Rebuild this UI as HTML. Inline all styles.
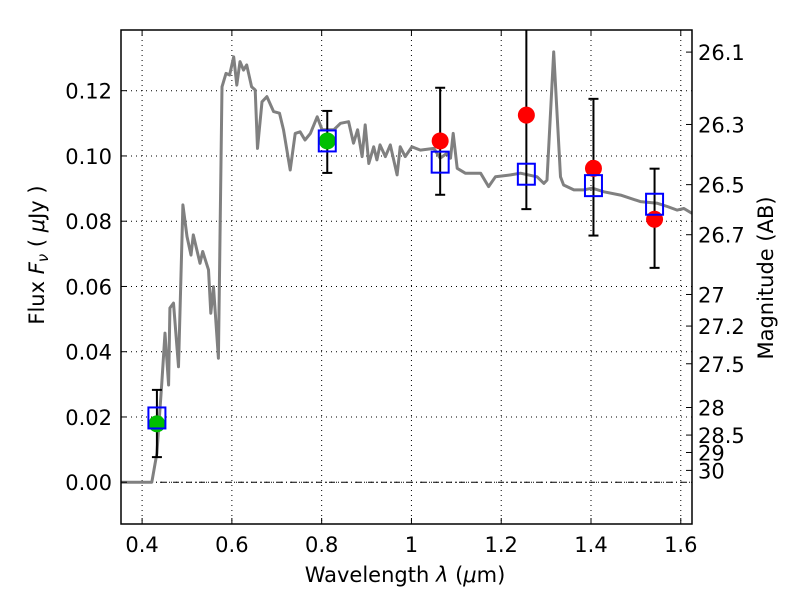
<!DOCTYPE html>
<html><head><meta charset="utf-8"><style>
html,body{margin:0;padding:0;background:#fff}
svg{display:block;font-family:"DejaVu Sans","Liberation Sans",sans-serif}
</style></head><body>
<svg id="chart" width="800" height="600" viewBox="0 0 800 600">
<defs><clipPath id="pc"><rect x="121" y="30" width="571" height="494"/></clipPath></defs>
<rect x="0" y="0" width="800" height="600" fill="#fff"/>
<g id="grid"></g>
<g id="spec" clip-path="url(#pc)"></g>
<g id="pts" clip-path="url(#pc)"></g>
<g id="axes"></g>
<text x="405" y="582" font-size="21" text-anchor="middle">Wavelength  <tspan font-style="italic">λ</tspan> (<tspan font-style="italic">μ</tspan>m)</text>
<text transform="translate(44,255) rotate(-90)" font-size="21" text-anchor="middle">Flux  <tspan font-style="italic">F<tspan font-size="15" dy="4">ν</tspan></tspan><tspan dy="-4">  (  </tspan><tspan font-style="italic">μ</tspan>Jy )</text>
<text transform="translate(773,278) rotate(-90)" font-size="21" text-anchor="middle">Magnitude (AB)</text>
</svg>
<script>
const specW=[0.353,0.4216,0.433,0.444,0.451,0.459,0.462,0.470,0.481,0.491,0.500,0.509,0.514,0.529,0.535,0.548,0.553,0.559,0.570,0.578,0.587,0.595,0.604,0.611,0.618,0.626,0.633,0.644,0.652,0.657,0.667,0.678,0.693,0.706,0.715,0.730,0.741,0.752,0.763,0.775,0.790,0.801,0.827,0.842,0.860,0.871,0.880,0.890,0.897,0.905,0.916,0.923,0.930,0.942,0.953,0.968,0.975,0.986,1.001,1.020,1.050,1.064,1.079,1.087,1.093,1.102,1.120,1.154,1.172,1.187,1.221,1.243,1.280,1.295,1.302,1.317,1.332,1.339,1.362,1.384,1.403,1.429,1.466,1.510,1.548,1.570,1.592,1.607,1.625];
const specF=[0,0,0.0089,0.0304,0.0457,0.0298,0.0534,0.0549,0.0354,0.085,0.0753,0.0696,0.0758,0.0671,0.0707,0.0651,0.0518,0.0599,0.038,0.1212,0.1253,0.1248,0.1304,0.1217,0.1289,0.1263,0.1279,0.1212,0.1202,0.1023,0.1166,0.1182,0.1136,0.1131,0.108,0.0957,0.1069,0.1074,0.1049,0.1069,0.112,0.108,0.108,0.11,0.1105,0.1039,0.108,0.0998,0.1095,0.0977,0.1028,0.0988,0.1034,0.0998,0.1034,0.0942,0.1028,0.0998,0.1028,0.1018,0.1023,0.0993,0.1008,0.0993,0.1069,0.0962,0.0947,0.0947,0.0906,0.0936,0.0942,0.0947,0.0936,0.0916,0.0926,0.1319,0.0936,0.0911,0.0896,0.0896,0.0901,0.089,0.088,0.086,0.0855,0.0845,0.0834,0.0839,0.0824];
const bandW=[0.433,0.8125,1.064,1.256,1.4055,1.5416];
const obsF=[0.0179,0.1046,0.1046,0.1125,0.0962,0.0806];
const errHi=[0.0283,0.1138,0.1209,0.145,0.1175,0.0961];
const errLo=[0.0077,0.0948,0.0881,0.0837,0.0756,0.0657];
const modelF=[0.0197,0.1046,0.0981,0.0944,0.0909,0.0852];
const detected=[true,true,false,false,false,false];
const xTicks=[0.4,0.6,0.8,1.0,1.2,1.4,1.6];
const xTickLabels=["0.4","0.6","0.8","1","1.2","1.4","1.6"];
const yTicks=[0,0.02,0.04,0.06,0.08,0.10,0.12];
const yTickLabels=["0.00","0.02","0.04","0.06","0.08","0.10","0.12"];
const magTicks=[26.1,26.3,26.5,26.7,27,27.2,27.5,28,28.5,29,30];
const magTickLabels=["26.1","26.3","26.5","26.7","27","27.2","27.5","28","28.5","29","30"];

const L=121,R=692,T=30,B=524,x0=0.353,x1=1.625,y0=-0.0128,y1=0.1386;
const X=v=>L+(v-x0)/(x1-x0)*(R-L);
const Y=v=>B-(v-y0)/(y1-y0)*(B-T);
const NS="http://www.w3.org/2000/svg";
function mk(tag,attrs,parent){const e=document.createElementNS(NS,tag);for(const k in attrs)e.setAttribute(k,attrs[k]);parent.appendChild(e);return e;}
const grid=document.getElementById('grid'),spec=document.getElementById('spec'),pts=document.getElementById('pts'),axes=document.getElementById('axes');

xTicks.forEach((t,i)=>{
 const g=mk('line',{x1:X(t),x2:X(t),y1:T,y2:B,stroke:'#000','stroke-width':1,'stroke-dasharray':'1,4'},grid);
 
 
 mk('line',{x1:X(t),x2:X(t),y1:B,y2:B-6,stroke:'#000'},axes);
 mk('line',{x1:X(t),x2:X(t),y1:T,y2:T+6,stroke:'#000'},axes);
 const tx=mk('text',{x:X(t),y:B+28,'font-size':21,'text-anchor':'middle'},axes);
 tx.textContent=xTickLabels[i];
 
 
});
yTicks.forEach((t,i)=>{
 const g=mk('line',{x1:L,x2:R,y1:Y(t),y2:Y(t),stroke:'#000','stroke-width':1,'stroke-dasharray':'1,4'},grid);
 
 
 mk('line',{x1:L,x2:L+6,y1:Y(t),y2:Y(t),stroke:'#000'},axes);
 const tx=mk('text',{x:L-9,y:Y(t)+8,'font-size':21,'text-anchor':'end'},axes);
 tx.textContent=yTickLabels[i];
 
 
});
const zl=mk('line',{x1:L,x2:R,y1:Y(0),y2:Y(0),stroke:'#000','stroke-width':1,'stroke-dasharray':'6,3,1,3'},grid);


magTicks.forEach((m,i)=>{
 const f=Math.pow(10,(23.9-m)/2.5);
 const y=Y(f);
 mk('line',{x1:R,x2:R-6,y1:y,y2:y,stroke:'#000'},axes);
 const tx=mk('text',{x:R+6,y:y+8,'font-size':21},axes);
 tx.textContent=magTickLabels[i];
 
 
});
let d='';specW.forEach((w,i)=>{d+=(i?'L':'M')+X(w).toFixed(1)+','+Y(specF[i]).toFixed(1);});
const sp=mk('path',{d:d,fill:'none',stroke:'#808080','stroke-width':3,'stroke-linejoin':'round'},spec);



bandW.forEach((w,i)=>{
 const x=X(w);
 const eb=mk('g',{},pts);
 
 
 mk('line',{x1:x,x2:x,y1:Y(errHi[i]),y2:Y(errLo[i]),stroke:'#000','stroke-width':2},eb);
 mk('line',{x1:x-5,x2:x+5,y1:Y(errHi[i]),y2:Y(errHi[i]),stroke:'#000','stroke-width':2},eb);
 mk('line',{x1:x-5,x2:x+5,y1:Y(errLo[i]),y2:Y(errLo[i]),stroke:'#000','stroke-width':2},eb);
 const c=mk('circle',{cx:x,cy:Y(obsF[i]),r:8.5,fill:detected[i]?'#00bf00':'#ff0000'},pts);
 
 
 const s=mk('rect',{x:x-8.5,y:Y(modelF[i])-10.5,width:17,height:21,fill:'none',stroke:'#0000ff','stroke-width':2},pts);
 
 
});
const fr=mk('rect',{x:L,y:T,width:R-L,height:B-T,fill:'none',stroke:'#000','stroke-width':1.5},axes);


</script>
</body></html>
